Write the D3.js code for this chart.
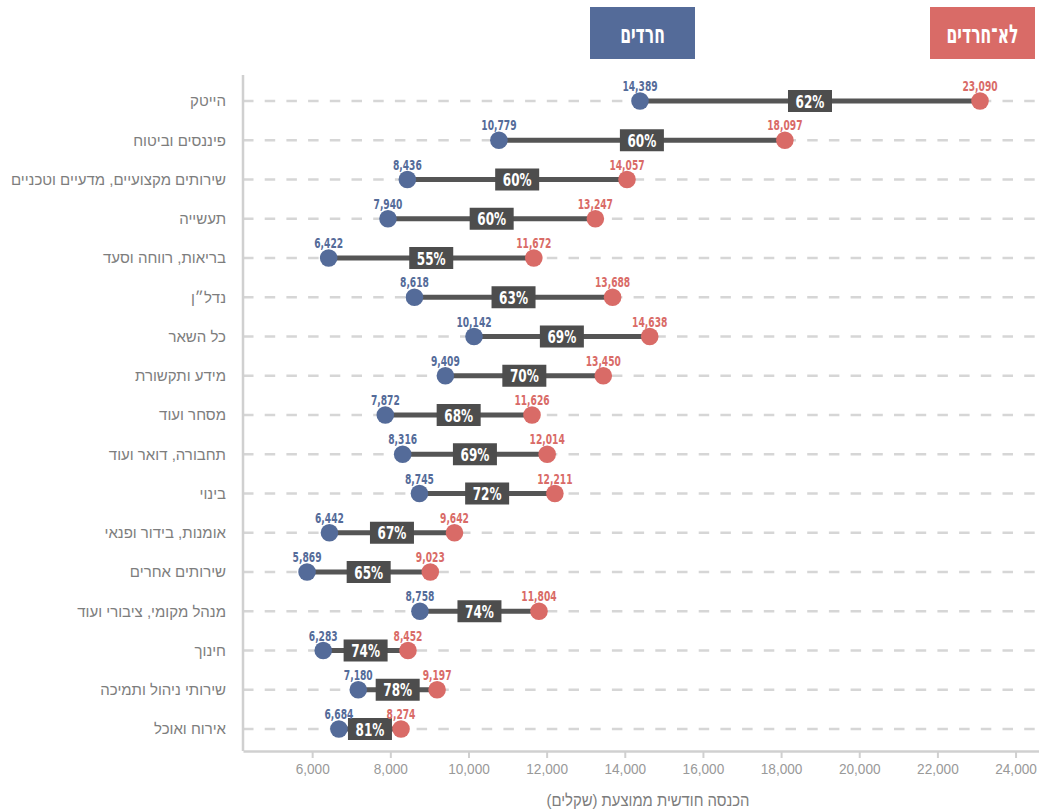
<!DOCTYPE html>
<html lang="he">
<head>
<meta charset="utf-8">
<script src="https://cdn.jsdelivr.net/npm/d3@7"></script>
<style>
  html, body { margin: 0; padding: 0; background: #fff; }
  svg { display: block; }
</style>
</head>
<body>
<svg id="chart" width="1039" height="810"></svg>
<script>
// sectors, top to bottom
const sectors = [
  "הייטק", "פיננסים וביטוח", "שירותים מקצועיים, מדעיים וטכניים", "תעשייה",
  "בריאות, רווחה וסעד", "נדל״ן", "כל השאר", "מידע ותקשורת", "מסחר ועוד",
  "תחבורה, דואר ועוד", "בינוי", "אומנות, בידור ופנאי", "שירותים אחרים",
  "מנהל מקומי, ציבורי ועוד", "חינוך", "שירותי ניהול ותמיכה", "אירוח ואוכל"
];
// average monthly income (NIS)
const haredi = [14389, 10779, 8436, 7940, 6422, 8618, 10142, 9409, 7872, 8316, 8745, 6442, 5869, 8758, 6283, 7180, 6684];
const nonHaredi = [23090, 18097, 14057, 13247, 11672, 13688, 14638, 13450, 11626, 12014, 12211, 9642, 9023, 11804, 8452, 9197, 8274];
const ratio = [62, 60, 60, 60, 55, 63, 69, 70, 68, 69, 72, 67, 65, 74, 74, 78, 81];
const xTicks = [6000, 8000, 10000, 12000, 14000, 16000, 18000, 20000, 22000, 24000];
const seriesNames = ["חרדים", "לא־חרדים"];
const axisTitle = "הכנסה חודשית ממוצעת (שקלים)";

const BLUE = "#546b99", RED = "#d96b67", DARK = "#555555", BOX = "#4d4d4d";
const GRID = "#d6d6d6", AXIS = "#d0d0d0", MUTED = "#7d7d7d";
const FONT = "'Liberation Sans', 'DejaVu Sans', sans-serif";
const HEAVY = "'DejaVu Sans', 'Liberation Sans', sans-serif";

const svg = d3.select("#chart");
const plotL = 243, plotR = 1039, plotT = 75, plotB = 751;

const x = d3.scaleLinear().domain([4230, 24600]).range([plotL, plotR]);
const y = d3.scalePoint().domain(sectors).range([101, 729]);
const fmt = d3.format(",");

const rows = sectors.map((s, i) => ({ s, a: haredi[i], b: nonHaredi[i], p: ratio[i] }));

// no narrow font installed, so squeeze the bold labels horizontally
const squeeze = (px, py, sx) => `translate(${px},${py}) scale(${sx},1)`;

// dashed gridlines
svg.append("g").selectAll("line").data(sectors).join("line")
  .attr("x1", plotL).attr("x2", plotR)
  .attr("y1", d => y(d)).attr("y2", d => y(d))
  .attr("stroke", GRID).attr("stroke-width", 2.5)
  .attr("stroke-dasharray", "10.5,11.2");

// axes lines
svg.append("line").attr("x1", plotL).attr("x2", plotL).attr("y1", plotT).attr("y2", plotB)
  .attr("stroke", AXIS).attr("stroke-width", 2.5);

const xa = svg.append("g").attr("transform", `translate(0,${plotB})`)
  .call(d3.axisBottom(x).tickValues(xTicks).tickFormat(fmt).tickSize(7).tickSizeOuter(0));
xa.select(".domain").attr("stroke", AXIS).attr("stroke-width", 2.5);
xa.selectAll(".tick line").attr("stroke", AXIS).attr("stroke-width", 2);
xa.selectAll(".tick text").attr("y", null).attr("dy", null)
  .attr("transform", squeeze(0, 23, 0.88)).attr("fill", "#999")
  .style("font-family", FONT).style("font-size", "15.5px");

svg.append("text").attr("transform", squeeze(648, 806, 0.9))
  .attr("text-anchor", "middle").attr("direction", "rtl")
  .attr("fill", MUTED).style("font-family", FONT).style("font-size", "16.5px")
  .text(axisTitle);

// category labels
svg.append("g").selectAll("text").data(sectors).join("text")
  .attr("x", 226).attr("y", d => y(d)).attr("dy", "0.35em")
  .attr("text-anchor", "end")
  .attr("fill", MUTED).style("font-family", FONT).style("font-size", "15px")
  .text(d => d);

// dumbbells
const g = svg.append("g").selectAll("g").data(rows).join("g")
  .attr("transform", d => `translate(0,${y(d.s)})`);

g.append("line")
  .attr("x1", d => x(d.a)).attr("x2", d => x(d.b))
  .attr("stroke", DARK).attr("stroke-width", 5);

g.append("rect")
  .attr("x", d => (x(d.a) + x(d.b)) / 2 - 22).attr("y", -11)
  .attr("width", 44).attr("height", 22).attr("fill", BOX);
g.append("text")
  .attr("transform", d => squeeze((x(d.a) + x(d.b)) / 2, 6.6, 0.67))
  .attr("text-anchor", "middle").attr("fill", "#fff")
  .style("font-family", HEAVY).style("font-size", "18px").style("font-weight", "bold")
  .text(d => d.p + "%");

g.append("circle").attr("cx", d => x(d.a)).attr("r", 8.8).attr("fill", BLUE);
g.append("circle").attr("cx", d => x(d.b)).attr("r", 8.8).attr("fill", RED);

g.append("text").attr("transform", d => squeeze(x(d.a), -10, 0.63))
  .attr("text-anchor", "middle").attr("fill", BLUE)
  .style("font-family", HEAVY).style("font-size", "14.5px").style("font-weight", "bold")
  .text(d => fmt(d.a));
g.append("text").attr("transform", d => squeeze(x(d.b), -10, 0.63))
  .attr("text-anchor", "middle").attr("fill", RED)
  .style("font-family", HEAVY).style("font-size", "14.5px").style("font-weight", "bold")
  .text(d => fmt(d.b));

// legend boxes
const legend = [
  { name: seriesNames[0], color: BLUE, x0: 590 },
  { name: seriesNames[1], color: RED, x0: 930 }
];
const lg = svg.append("g").selectAll("g").data(legend).join("g")
  .attr("transform", d => `translate(${d.x0},7)`);
lg.append("rect").attr("width", 105).attr("height", 52).attr("fill", d => d.color);
lg.append("text").attr("transform", squeeze(52.5, 35.5, 0.6))
  .attr("text-anchor", "middle").attr("direction", "rtl").attr("fill", "#fff")
  .style("font-family", HEAVY).style("font-size", "26px").style("font-weight", "bold")
  .text(d => d.name);
</script>
</body>
</html>
